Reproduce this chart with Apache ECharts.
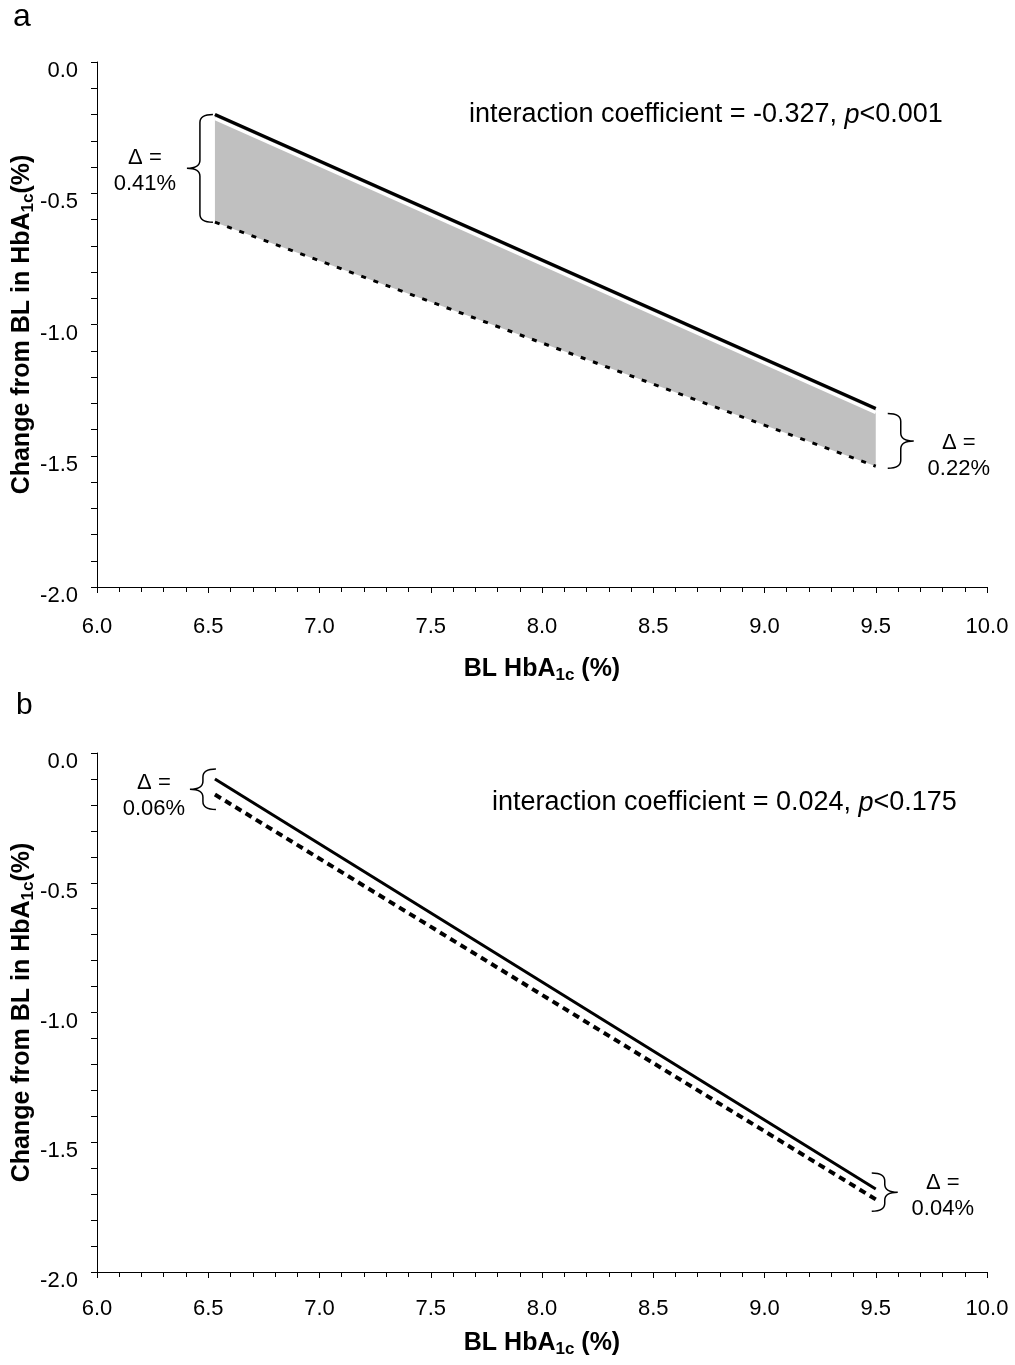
<!DOCTYPE html>
<html>
<head>
<meta charset="utf-8">
<script src="https://cdn.jsdelivr.net/npm/echarts@6/dist/echarts.min.js"></script>
<style>
  html, body { margin: 0; background: #fff; }
  #main { width: 1015px; height: 1365px; }
</style>
</head>
<body>
<div id="main"></div>
<script>
// BL HbA1c at the two ends of each fitted line
var blHba1c = [6.53, 9.5];
// panel a
var solidA = [-0.20, -1.32];
var dottedA = [-0.61, -1.54];
var deltaA = ['0.41%', '0.22%'];
var coefA = ['-0.327', '<0.001'];
// panel b
var solidB = [-0.10, -1.68];
var dottedB = [-0.16, -1.72];
var deltaB = ['0.06%', '0.04%'];
var coefB = ['0.024', '<0.175'];
// axis ranges: min, max, step
var xRange = [6, 10, 0.5];
var yRange = [-2, 0, 0.5];

var FONT = 'Arial, "Liberation Sans", sans-serif';

function pairs(xs, ys) {
  return xs.map(function (x, i) { return [x, ys[i]]; });
}

var titleRich = {
  b: { fontSize: 25, fontWeight: 'bold', fontFamily: FONT, color: '#000', lineHeight: 30 },
  s: { fontSize: 17, fontWeight: 'bold', fontFamily: FONT, color: '#000', lineHeight: 16, verticalAlign: 'bottom' }
};

function makeX(g, nameGap, labelMargin) {
  return {
    gridIndex: g, type: 'value',
    min: xRange[0], max: xRange[1], interval: xRange[2],
    name: '{b|BL HbA}{s|1c}{b| (%)}',
    nameLocation: 'middle', nameGap: nameGap, nameMoveOverlap: false,
    nameTextStyle: { rich: titleRich },
    axisLine: { onZero: false, lineStyle: { color: '#000', width: 1 } },
    axisTick: { inside: false, length: 6, lineStyle: { color: '#000' } },
    minorTick: { show: true, splitNumber: 5, length: 5, lineStyle: { color: '#000' } },
    splitLine: { show: false },
    axisLabel: {
      color: '#000', fontSize: 22, fontFamily: FONT, margin: labelMargin,
      formatter: function (v) { return v.toFixed(1); }
    }
  };
}

function makeY(g) {
  return {
    gridIndex: g, type: 'value',
    min: yRange[0], max: yRange[1], interval: yRange[2],
    name: '{b|Change from BL in HbA}{s|1c}{b|(%)}',
    nameLocation: 'middle', nameGap: 60, nameMoveOverlap: false,
    nameTextStyle: { rich: titleRich },
    axisLine: { show: true, onZero: false, lineStyle: { color: '#000', width: 1 } },
    axisTick: { show: true, inside: false, length: 6, lineStyle: { color: '#000' } },
    minorTick: { show: true, splitNumber: 5, length: 6, lineStyle: { color: '#000' } },
    splitLine: { show: false },
    axisLabel: {
      color: '#000', fontSize: 22, fontFamily: FONT, margin: 19,
      verticalAlign: 'top', lineHeight: 18,
      formatter: function (v) { return v.toFixed(1); }
    }
  };
}

// grey band between the two lines, one polygon per segment
function bandSeries(g, solid, dotted) {
  var segs = [];
  for (var i = 0; i < blHba1c.length - 1; i++) {
    segs.push([blHba1c[i], solid[i], dotted[i], blHba1c[i + 1], solid[i + 1], dotted[i + 1]]);
  }
  return {
    type: 'custom', xAxisIndex: g, yAxisIndex: g, silent: true, z: 1,
    encode: { x: [0, 3], y: [1, 2, 4, 5] },
    data: segs,
    renderItem: function (params, api) {
      var t0 = api.coord([api.value(0), api.value(1)]);
      var b0 = api.coord([api.value(0), api.value(2)]);
      var t1 = api.coord([api.value(3), api.value(4)]);
      var b1 = api.coord([api.value(3), api.value(5)]);
      return { type: 'polygon', shape: { points: [t0, t1, b1, b0] }, style: { fill: '#c0c0c0' } };
    }
  };
}

function bracePath(xEnd, y1, y2, dir) {
  var sp = xEnd + dir * 13, tip = xEnd + dir * 26, mid = (y1 + y2) / 2, r = 8;
  return 'M' + xEnd + ',' + y1 +
    ' Q' + sp + ',' + y1 + ' ' + sp + ',' + (y1 + r) +
    ' L' + sp + ',' + (mid - r) +
    ' Q' + sp + ',' + mid + ' ' + tip + ',' + mid +
    ' Q' + sp + ',' + mid + ' ' + sp + ',' + (mid + r) +
    ' L' + sp + ',' + (y2 - r) +
    ' Q' + sp + ',' + y2 + ' ' + xEnd + ',' + y2;
}

// braces with the delta labels at both line ends; layout = pixel tweaks per end
function braceSeries(g, solid, dotted, labels, layout) {
  return {
    type: 'custom', xAxisIndex: g, yAxisIndex: g, silent: true, clip: false, z: 5,
    encode: { x: 0, y: [1, 2] },
    data: blHba1c.map(function (x, i) { return [x, solid[i], dotted[i]]; }),
    renderItem: function (params, api) {
      var i = params.dataIndex, L = layout[i];
      var a = api.coord([api.value(0), api.value(1)]);
      var b = api.coord([api.value(0), api.value(2)]);
      var xEnd = a[0] + L.ox, y1 = a[1] + L.oTop, y2 = b[1] + L.oBot;
      return {
        type: 'group',
        children: [
          {
            type: 'path', shape: { pathData: bracePath(xEnd, y1, y2, L.dir) },
            style: { stroke: '#000', fill: 'none', lineWidth: 1.5 }
          },
          {
            type: 'text', x: xEnd + L.dir * 26 + L.tdx, y: (y1 + y2) / 2 + L.tdy,
            style: {
              text: '\u0394 =\n' + labels[i], fill: '#000', fontSize: 22, fontFamily: FONT,
              lineHeight: 26, align: 'center', verticalAlign: 'middle'
            }
          }
        ]
      };
    }
  };
}

function lineSeries(g, ys, style, z) {
  return {
    type: 'line', xAxisIndex: g, yAxisIndex: g, data: pairs(blHba1c, ys),
    symbol: 'none', lineStyle: style, z: z, silent: true
  };
}

function coefText(x, y, coef, p) {
  return {
    type: 'text', x: x, y: y,
    style: {
      text: '{n|interaction coefficient = ' + coef + ', }{i|p}{n|' + p + '}',
      verticalAlign: 'middle',
      rich: {
        n: { fontSize: 27, fontFamily: FONT, color: '#000' },
        i: { fontSize: 27, fontFamily: FONT, color: '#000', fontStyle: 'italic' }
      }
    }
  };
}

var chart = echarts.init(document.getElementById('main'), null, { renderer: 'canvas' });
chart.setOption({
  animation: false,
  backgroundColor: '#fff',
  grid: [
    { left: 97, top: 62, width: 890, height: 525, outerBoundsMode: 'none', containLabel: false },
    { left: 97, top: 753, width: 890, height: 519, outerBoundsMode: 'none', containLabel: false }
  ],
  xAxis: [makeX(0, 67, 29), makeX(1, 56, 26)],
  yAxis: [makeY(0), makeY(1)],
  series: [
    bandSeries(0, solidA, dottedA),
    lineSeries(0, dottedA, { color: '#000', width: 3, type: [5, 8] }, 3),
    lineSeries(0, solidA, { color: '#000', width: 3.5, shadowColor: '#fff', shadowOffsetY: 4, shadowBlur: 0 }, 4),
    braceSeries(0, solidA, dottedA, deltaA, [
      { dir: -1, ox: -2, oTop: 0, oBot: 0, tdx: -42, tdy: 3 },
      { dir: 1, ox: 12, oTop: 5, oBot: 2, tdx: 45, tdy: 15 }
    ]),
    lineSeries(1, dottedB, { color: '#000', width: 4, type: [7, 5] }, 3),
    lineSeries(1, solidB, { color: '#000', width: 3 }, 4),
    braceSeries(1, solidB, dottedB, deltaB, [
      { dir: -1, ox: 1, oTop: -10, oBot: 15, tdx: -36, tdy: 7 },
      { dir: 1, ox: -4, oTop: -16, oBot: 12, tdx: 45, tdy: 4 }
    ])
  ],
  graphic: [
    coefText(469, 115, coefA[0], coefA[1]),
    coefText(492, 803, coefB[0], coefB[1]),
    { type: 'text', x: 13, y: 17, style: { text: 'a', fontSize: 32, fontFamily: FONT, fill: '#000', verticalAlign: 'middle' } },
    { type: 'text', x: 16, y: 706, style: { text: 'b', fontSize: 30, fontFamily: FONT, fill: '#000', verticalAlign: 'middle' } }
  ]
});
</script>
</body>
</html>
